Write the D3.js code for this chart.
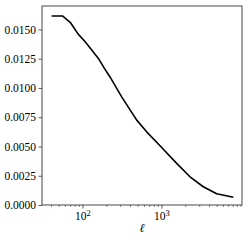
<!DOCTYPE html>
<html>
<head>
<meta charset="utf-8">
<script src="https://cdn.jsdelivr.net/npm/d3@7"></script>
<style>
  html, body { margin: 0; padding: 0; background: #fff; }
  svg text { font-family: "Liberation Serif", "DejaVu Serif", serif; }
</style>
</head>
<body>
<div id="chart"></div>
<script>
// values
const ell = [40, 55, 70, 87, 106, 129, 156, 186, 220, 309, 479, 640, 925, 1040, 1534, 2261, 3334, 4921, 8000];
const vals = [0.01615, 0.01615, 0.01555, 0.01460, 0.01396, 0.01325, 0.01254, 0.01169, 0.01094, 0.00924, 0.00725, 0.00625, 0.00512, 0.00476, 0.00356, 0.00241, 0.00156, 0.00096, 0.00066];
const yTicks = [0, 0.0025, 0.005, 0.0075, 0.01, 0.0125, 0.015];
const xMajor = [100, 1000];
const xLabel = "ℓ";

const W = 249, H = 240;
const m = { top: 6, right: 7, bottom: 35, left: 42 };

const x = d3.scaleLog().domain([30.3, 10300]).range([m.left, W - m.right]);
const y = d3.scaleLinear().domain([0, 0.0170]).range([H - m.bottom, m.top]);

const svg = d3.select('#chart').append('svg')
  .attr('width', W).attr('height', H);

const axisColor = '#333';

// line
const line = d3.line().x((d, i) => x(ell[i])).y(d => y(d));
svg.append('path')
  .datum(vals)
  .attr('fill', 'none')
  .attr('stroke', '#000')
  .attr('stroke-width', 1.6)
  .attr('stroke-linejoin', 'round')
  .attr('d', line);

// frame
svg.append('rect')
  .attr('x', m.left).attr('y', m.top)
  .attr('width', W - m.left - m.right)
  .attr('height', H - m.top - m.bottom)
  .attr('fill', 'none')
  .attr('stroke', axisColor)
  .attr('stroke-width', 0.9);

// y axis
const yAxis = d3.axisLeft(y).tickValues(yTicks).tickSize(3.5).tickPadding(2.5)
  .tickFormat(d3.format('.4f'));
const gy = svg.append('g').attr('transform', `translate(${m.left},0)`).call(yAxis)
  .attr('font-family', null);
gy.select('.domain').remove();
gy.selectAll('line').attr('stroke', axisColor).attr('stroke-width', 0.8);
gy.selectAll('text').attr('font-size', 11.5).attr('fill', '#000');

// x axis minor ticks
const [d0, d1] = x.domain();
const minor = x.ticks().filter(v => v >= d0 && v <= d1 && !xMajor.includes(v));
const gx = svg.append('g').attr('transform', `translate(0,${H - m.bottom})`);
gx.selectAll('line.minor').data(minor).join('line')
  .attr('class', 'minor')
  .attr('x1', d => x(d)).attr('x2', d => x(d))
  .attr('y1', 0).attr('y2', 2)
  .attr('stroke', axisColor).attr('stroke-width', 0.6);
gx.selectAll('line.major').data(xMajor).join('line')
  .attr('class', 'major')
  .attr('x1', d => x(d)).attr('x2', d => x(d))
  .attr('y1', 0).attr('y2', 3.5)
  .attr('stroke', axisColor).attr('stroke-width', 0.8);
const lab = gx.selectAll('text.major').data(xMajor).join('text')
  .attr('class', 'major')
  .attr('x', d => x(d)).attr('y', 15)
  .attr('text-anchor', 'middle')
  .attr('font-size', 11.5)
  .attr('fill', '#000');
lab.append('tspan').text('10');
lab.append('tspan').attr('dy', -4.5).attr('font-size', 8.5).text(d => Math.round(Math.log10(d)));

svg.append('text')
  .attr('x', (m.left + W - m.right) / 2)
  .attr('y', H - 8)
  .attr('text-anchor', 'middle')
  .attr('font-size', 12)
  .attr('font-style', 'italic')
  .text(xLabel);
</script>
</body>
</html>
